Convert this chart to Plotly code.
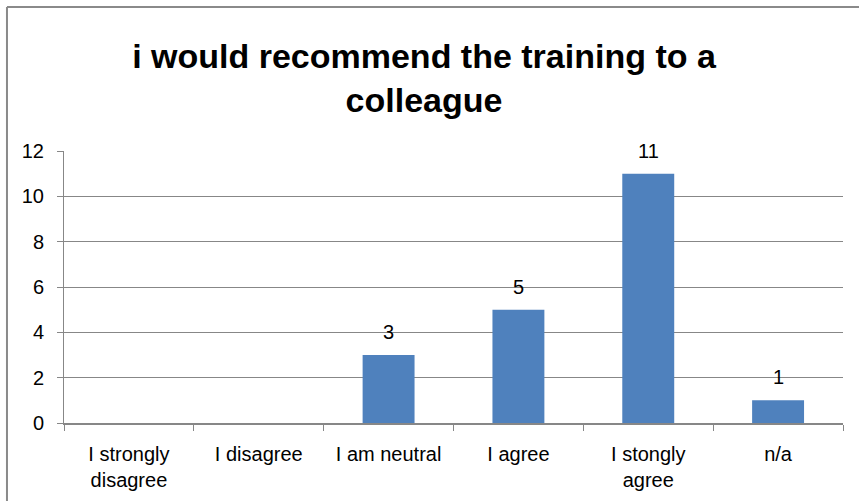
import plotly.graph_objects as go

categories = ["I strongly<br>disagree", "I disagree", "I am neutral", "I agree", "I stongly<br>agree", "n/a"]
counts = [0, 0, 3, 5, 11, 1]
label_values = [None, None, 3, 5, 11, 1]
y_ticks = [0, 2, 4, 6, 8, 10, 12]

FONT = "Liberation Sans, Arial, sans-serif"
GRID = "#878787"

fig = go.Figure()
fig.add_trace(go.Bar(
    x=categories, y=counts,
    marker=dict(color="#4F81BD", line=dict(width=0)),
    hoverinfo="x+y",
))

for c, v in zip(categories, label_values):
    if v is None:
        continue
    fig.add_annotation(x=c, y=v, text=str(v), showarrow=False,
                       yanchor="middle", yshift=23,
                       font=dict(family=FONT, size=20, color="#000000"))

# chart outer border (top and left visible)
fig.add_shape(type="line", xref="paper", yref="paper",
              x0=-0.0732, x1=1.2, y0=1.529, y1=1.529,
              line=dict(color="#8a8a8a", width=2))
fig.add_shape(type="line", xref="paper", yref="paper",
              x0=-0.0732, x1=-0.0732, y0=1.529, y1=-0.5,
              line=dict(color="#8a8a8a", width=2))

fig.update_layout(
    width=859, height=501,
    margin=dict(l=64, r=16, t=151, b=78, autoexpand=False),
    paper_bgcolor="white", plot_bgcolor="white",
    bargap=0.6,
    showlegend=False,
    title=dict(text="<b>i would recommend the training to a<br>colleague</b>",
               x=424 / 859, xanchor="center", xref="container",
               y=1 - 68 / 501, yanchor="middle", yref="container",
               font=dict(family=FONT, size=34, color="#000000")),
    font=dict(family=FONT, size=20, color="#000000"),
)

fig.update_xaxes(
    type="category", tickson="boundaries",
    ticks="outside", ticklen=6, tickcolor=GRID, tickwidth=1,
    showline=True, linecolor=GRID, linewidth=2,
    showgrid=False, zeroline=False, ticklabelstandoff=12,
    tickfont=dict(family=FONT, size=20, color="#000000"),
    fixedrange=True,
)
fig.update_yaxes(
    range=[0, 12], tickvals=y_ticks, ticktext=[str(t) for t in y_ticks],
    ticks="outside", ticklen=6, tickcolor=GRID, tickwidth=1,
    showline=True, linecolor=GRID, linewidth=1,
    showgrid=True, gridcolor=GRID, gridwidth=1,
    zeroline=False, ticklabelstandoff=9,
    tickfont=dict(family=FONT, size=20, color="#000000"),
    fixedrange=True,
)

fig.write_html("out.html", config={"displayModeBar": False},
               post_script="document.body.style.margin='0';")
